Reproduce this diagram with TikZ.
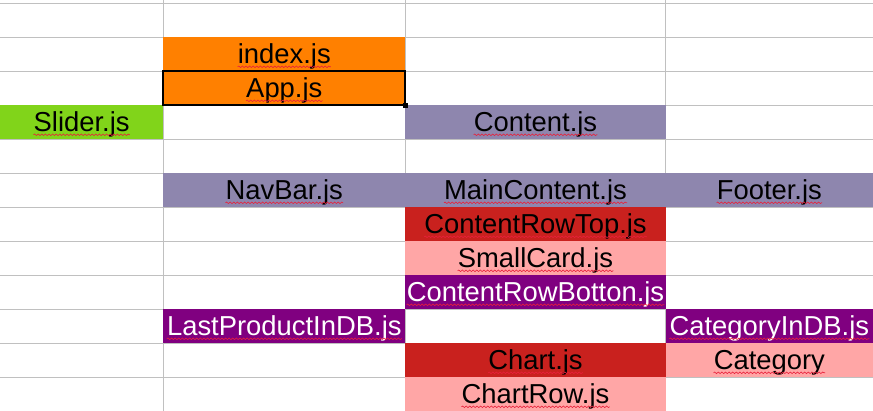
\documentclass[tikz,border=0pt]{standalone}
\usepackage{fontspec}
\setmainfont{Liberation Sans}
\usetikzlibrary{decorations.pathmorphing}
\definecolor{gridc}{HTML}{C0C0C0}
\definecolor{orangec}{HTML}{FF8000}
\definecolor{greenc}{HTML}{81D41A}
\definecolor{lavc}{HTML}{8E86AE}
\definecolor{redc}{HTML}{C9211E}
\definecolor{pinkc}{HTML}{FFA6A6}
\definecolor{purplec}{HTML}{800080}
\definecolor{squigc}{HTML}{E8203A}
\tikzset{
  x=1pt,y=-1pt,
  gridline/.style={draw=gridc,line width=1pt},
  cellbox/.style={rectangle,anchor=north west,inner sep=0pt,outer sep=0pt,minimum height=34pt},
  lbl/.style={anchor=base,inner sep=0pt,font=\fontsize{27.4}{30}\selectfont},
  squig/.style={draw=squigc,line width=0.6pt,decorate,decoration={snake,amplitude=0.8pt,segment length=3.6pt}},
  selbox/.style={draw=black,line width=2pt},
}
% \mycell{x0}{y0}{width}{fill}{textcolor}{name}{text}
\newcommand{\mycell}[7]{%
  \node[cellbox,fill=#4,minimum width=#3pt] (#6) at (#1,#2) {};
  \node[lbl,text=#5] (#6t) at ([yshift=-9.3pt]#6.center) {#7};
  \draw[squig] ([yshift=-3.2pt]#6t.base west) -- ([yshift=-3.2pt]#6t.base east);
}
\begin{document}
\begin{tikzpicture}
\useasboundingbox (0,0) rectangle (873,411);
\fill[white] (0,0) rectangle (873,411);
% grid
\foreach \r in {3.3,37.3,71.3,105.3,139.3,173.3,207.3,241.3,275.3,309.3,343.3,377.3}
  \draw[gridline] (0,\r) -- (873,\r);
\foreach \c in {163.3,405.3,665.7}
  \draw[gridline] (\c,0) -- (\c,411);
% cells
\mycell{163.3}{37.3}{242}{orangec}{black}{index}{index.js}
\mycell{163.3}{71.3}{242}{orangec}{black}{app}{App.js}
\mycell{0}{105.3}{163.3}{greenc}{black}{slider}{Slider.js}
\mycell{405.3}{105.3}{260.4}{lavc}{black}{content}{Content.js}
\mycell{163.3}{173.3}{242}{lavc}{black}{navbar}{NavBar.js}
\mycell{405.3}{173.3}{260.4}{lavc}{black}{main}{MainContent.js}
\mycell{665.7}{173.3}{207.3}{lavc}{black}{footer}{Footer.js}
\mycell{405.3}{207.3}{260.4}{redc}{black}{rowtop}{ContentRowTop.js}
\mycell{405.3}{241.3}{260.4}{pinkc}{black}{small}{SmallCard.js}
\mycell{405.3}{275.3}{260.4}{purplec}{white}{rowbot}{ContentRowBotton.js}
\mycell{163.3}{309.3}{242}{purplec}{white}{last}{LastProductInDB.js}
\mycell{665.7}{309.3}{207.3}{purplec}{white}{catdb}{CategoryInDB.js}
\mycell{405.3}{343.3}{260.4}{redc}{black}{chart}{Chart.js}
\mycell{665.7}{343.3}{207.3}{pinkc}{black}{cat}{Category}
\mycell{405.3}{377.3}{260.4}{pinkc}{black}{chartrow}{ChartRow.js}
% selection cursor on App.js
\draw[selbox] (app.north west) rectangle (app.south east);
\coordinate (handle) at (app.south east);
\fill[black] ([shift={(-2.5,-2.5)}]handle) rectangle ([shift={(2.5,2.5)}]handle);
\end{tikzpicture}
\end{document}
